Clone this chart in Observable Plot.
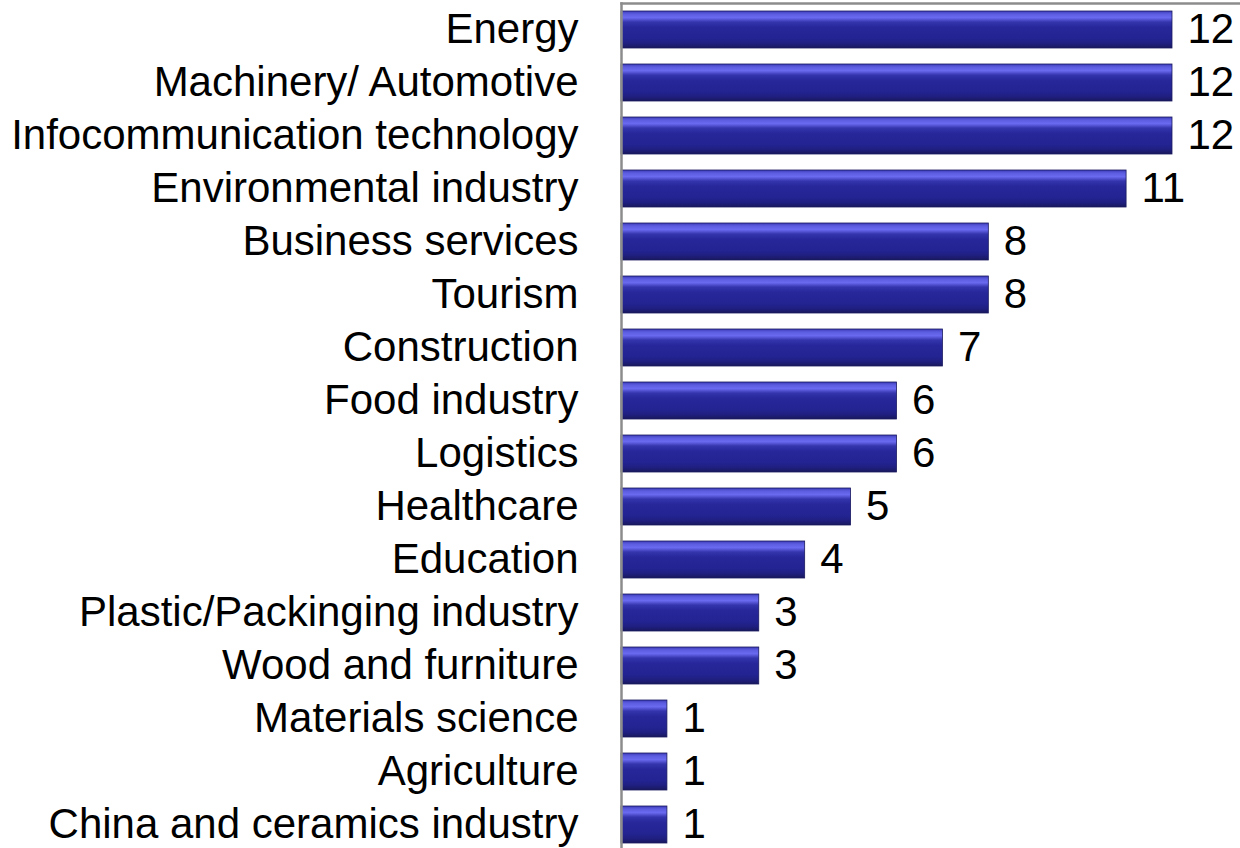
<!DOCTYPE html>
<html>
<head>
<meta charset="utf-8">
<script src="https://cdn.jsdelivr.net/npm/d3@7"></script>
<script src="https://cdn.jsdelivr.net/npm/@observablehq/plot@0.6"></script>
<style>
  html, body { margin: 0; padding: 0; background: #fff; }
  #chart svg { display: block; }
</style>
</head>
<body>
<div id="chart"></div>
<script>
const categories = [
  "Energy",
  "Machinery/ Automotive",
  "Infocommunication technology",
  "Environmental industry",
  "Business services",
  "Tourism",
  "Construction",
  "Food industry",
  "Logistics",
  "Healthcare",
  "Education",
  "Plastic/Packinging industry",
  "Wood and furniture",
  "Materials science",
  "Agriculture",
  "China and ceramics industry"
];
const values = [12, 12, 12, 11, 8, 8, 7, 6, 6, 5, 4, 3, 3, 1, 1, 1];

const data = categories.map((c, i) => ({category: c, value: values[i]}));

const chart = Plot.plot({
  width: 1240,
  height: 848,
  marginLeft: 621,
  marginRight: 0,
  marginTop: 3,
  marginBottom: 0,
  style: {fontFamily: "'Liberation Sans', Arial, sans-serif", fontSize: "42px", color: "#000", background: "#fff"},
  x: {domain: [0, 12], range: [621, 1172], axis: null},
  y: {domain: categories, range: [1, 854], paddingInner: 0.3, paddingOuter: 0.15, label: null},
  marks: [
    Plot.barX(data, {x: "value", y: "category", fill: "url(#barGrad)", stroke: "#1a1a60", strokeWidth: 0.8}),
    Plot.text(data, {x: "value", y: "category", text: d => String(d.value), textAnchor: "start", dx: 15, fontSize: 42, fill: "#000"}),
    Plot.axisY({tickSize: 0, tickPadding: 43, fontSize: 42, fill: "#000"}),
    Plot.frame({anchor: "top", stroke: "#8c8c8c", strokeWidth: 2.5, strokeOpacity: 1}),
    Plot.frame({anchor: "left", stroke: "#8c8c8c", strokeWidth: 2.5, strokeOpacity: 1})
  ]
});

const ns = "http://www.w3.org/2000/svg";
const defs = document.createElementNS(ns, "defs");
const grad = document.createElementNS(ns, "linearGradient");
grad.setAttribute("id", "barGrad");
grad.setAttribute("x1", "0"); grad.setAttribute("y1", "0");
grad.setAttribute("x2", "0"); grad.setAttribute("y2", "1");
[
  [0, "#3a3ab8"],
  [0.08, "#5c5ce0"],
  [0.18, "#6a6af0"],
  [0.3, "#3434ac"],
  [0.45, "#27279a"],
  [0.75, "#232392"],
  [0.88, "#1f1f80"],
  [1, "#18185e"]
].forEach(([o, c]) => {
  const s = document.createElementNS(ns, "stop");
  s.setAttribute("offset", o);
  s.setAttribute("stop-color", c);
  grad.appendChild(s);
});
defs.appendChild(grad);
chart.insertBefore(defs, chart.firstChild);

document.getElementById("chart").appendChild(chart);
</script>
</body>
</html>
